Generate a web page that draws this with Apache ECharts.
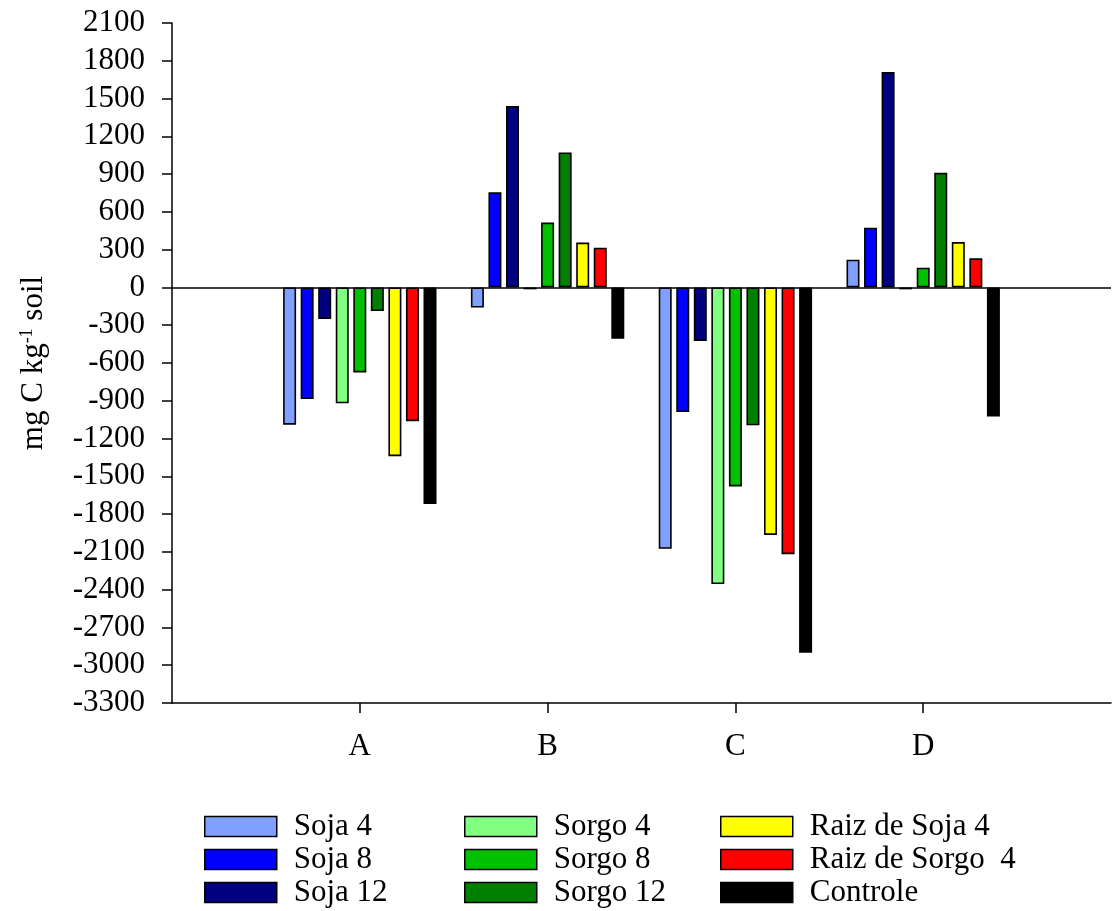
<!DOCTYPE html>
<html>
<head>
<meta charset="utf-8">
<script src="https://cdn.jsdelivr.net/npm/echarts@6/dist/echarts.min.js"></script>
<style>
    html, body { margin: 0; padding: 0; background: #fff; }
    #chart { width: 1114px; height: 911px; }
</style>
</head>
<body>
<div id="chart"></div>
<script>
// categorias (posições vazias nas pontas, como no original)
var categories = ['', 'A', 'B', 'C', 'D', ''];
var seriesNames = ['Soja 4', 'Soja 8', 'Soja 12', 'Sorgo 4', 'Sorgo 8', 'Sorgo 12', 'Raiz de Soja 4', 'Raiz de Sorgo  4', 'Controle'];
var colors = ['#80a0ff', '#0000ff', '#000080', '#80ff80', '#00c000', '#008000', '#ffff00', '#ff0000', '#000000'];

var soja4 = [null, -1090, -160, -2075, 220, null];
var soja8 = [null, -885, 755, -990, 475, null];
var soja12 = [null, -250, 1440, -425, 1710, null];
var sorgo4 = [null, -920, -15, -2355, -15, null];
var sorgo8 = [null, -675, 515, -1580, 157, null];
var sorgo12 = [null, -188, 1072, -1095, 910, null];
var raizSoja4 = [null, -1340, 356, -1965, 360, null];
var raizSorgo4 = [null, -1062, 316, -2118, 231, null];
var controle = [null, -1720, -408, -2900, -1025, null];

var yTicks = { min: -3300, max: 2100, interval: 300 };

var allData = [soja4, soja8, soja12, sorgo4, sorgo8, sorgo12, raizSoja4, raizSorgo4, controle];
var font = '"Liberation Serif", "Times New Roman", serif';

var chart = echarts.init(document.getElementById('chart'));

var series = allData.map(function (d, i) {
    var s = {
        name: seriesNames[i],
        type: 'bar',
        data: d,
        barWidth: 13,
        barGap: '35%',
        itemStyle: { color: colors[i], borderColor: '#000', borderWidth: 1.6 },
        emphasis: { disabled: true },
        animation: false
    };
    if (i === 0) {
        // linha do zero
        s.markLine = {
            silent: true,
            symbol: ['none', 'none'],
            label: { show: false },
            lineStyle: { color: '#000', width: 1.5, type: 'solid' },
            data: [{ yAxis: 0 }]
        };
    }
    return s;
});

function legendCol(left, names) {
    return {
        orient: 'vertical',
        left: left,
        top: 811,
        height: 120,
        padding: 0,
        icon: 'rect',
        itemWidth: 72,
        itemHeight: 20,
        itemGap: 2,
        data: names,
        selectedMode: false,
        textStyle: { fontFamily: font, fontSize: 31, color: '#000', padding: [0, 0, 0, 12] },
        itemStyle: { borderColor: '#000', borderWidth: 1.5 }
    };
}

var option = {
    animation: false,
    grid: { left: 172, right: 0, top: 23, bottom: 208 },
    legend: [
        legendCol(204, seriesNames.slice(0, 3)),
        legendCol(464, seriesNames.slice(3, 6)),
        legendCol(720, seriesNames.slice(6, 9))
    ],
    xAxis: {
        type: 'category',
        data: categories,
        boundaryGap: false,
        axisLine: { onZero: false, lineStyle: { color: '#000', width: 1.5 } },
        axisTick: {
            alignWithLabel: true,
            length: 10,
            lineStyle: { color: '#000', width: 1.5 },
            interval: function (idx, val) { return val !== ''; }
        },
        axisLabel: { margin: 28, fontFamily: font, fontSize: 31, color: '#000' },
        splitLine: { show: false }
    },
    yAxis: {
        type: 'value',
        min: yTicks.min,
        max: yTicks.max,
        interval: yTicks.interval,
        axisLine: { show: true, lineStyle: { color: '#000', width: 1.5 } },
        axisTick: { show: true, length: 10, lineStyle: { color: '#000', width: 1.5 } },
        axisLabel: {
            margin: 27, fontFamily: font, fontSize: 31, color: '#000',
            formatter: function (v) { return String(v); }
        },
        splitLine: { show: false },
        name: '{a|mg C kg}{s|-1}{a| soil}',
        nameLocation: 'middle',
        nameGap: 122,
        nameTextStyle: {
            rich: {
                a: { fontFamily: font, fontSize: 31, color: '#000', lineHeight: 32 },
                s: { fontFamily: font, fontSize: 18, color: '#000', verticalAlign: 'top', lineHeight: 32 }
            }
        }
    },
    series: series
};
chart.setOption(option);
</script>
</body>
</html>
